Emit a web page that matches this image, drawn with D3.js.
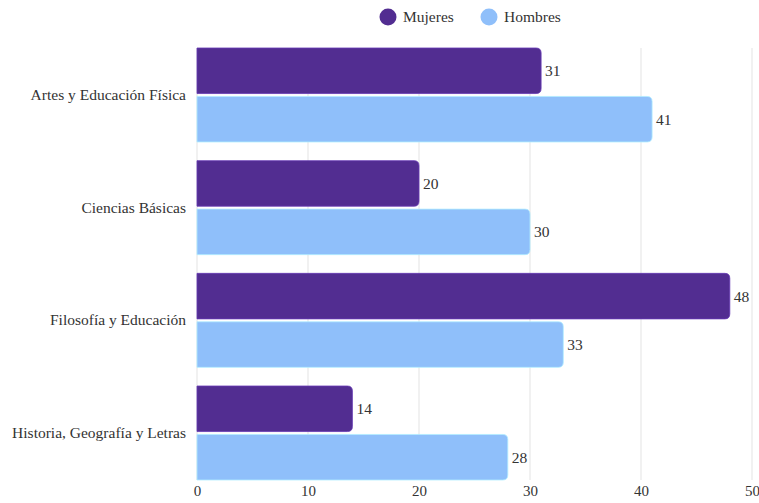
<!DOCTYPE html>
<html>
<head>
<meta charset="utf-8">
<script src="https://cdn.jsdelivr.net/npm/d3@7"></script>
<style>
  body { margin: 0; background: #fff; }
  svg text { fill: #333; }
</style>
</head>
<body>
<div class="chart"></div>
<script>
// data
var categories = ["Artes y Educación Física", "Ciencias Básicas", "Filosofía y Educación", "Historia, Geografía y Letras"];
var series = ["Mujeres", "Hombres"];
var mujeres = [31, 20, 48, 14];
var hombres = [41, 30, 33, 28];
var xTicks = [0, 10, 20, 30, 40, 50];
var colors = ["#522d91", "#8fbffa"];

var FONT = "'Times New Roman', Times, Tinos, 'Liberation Serif', 'Noto Serif', 'DejaVu Serif', serif";
var width = 759, height = 503;
var margin = {top: 48, right: 7, bottom: 23, left: 197};

var svg = d3.select(".chart").append("svg")
    .attr("width", width)
    .attr("height", height);

var x = d3.scaleLinear().domain([0, 50]).range([margin.left, margin.left + 555]);
var y0 = d3.scaleBand().domain(categories).range([margin.top, height - margin.bottom]).paddingInner(0.166).paddingOuter(0);
var y1 = d3.scaleBand().domain(series).range([0, y0.bandwidth()]).paddingInner(0.06);

// gridlines
svg.append("g")
    .selectAll("line")
    .data(xTicks)
    .enter().append("line")
    .attr("x1", function (d) { return x(d); })
    .attr("x2", function (d) { return x(d); })
    .attr("y1", margin.top)
    .attr("y2", height - margin.bottom)
    .attr("stroke", "#e3e3e3")
    .attr("stroke-width", 1);

// x axis labels
var xAxis = svg.append("g")
    .attr("transform", "translate(0," + (height - margin.bottom) + ")")
    .call(d3.axisBottom(x).tickValues(xTicks).tickSize(0).tickPadding(5));
xAxis.attr("font-family", FONT).attr("font-size", 15);
xAxis.select(".domain").remove();
xAxis.selectAll("text").attr("fill", "#333");

// category labels
var yAxis = svg.append("g")
    .attr("transform", "translate(" + (margin.left - 11) + ",0)")
    .call(d3.axisLeft(y0).tickSize(0).tickPadding(0));
yAxis.attr("font-family", FONT).attr("font-size", 15.5);
yAxis.select(".domain").remove();
yAxis.selectAll("text").attr("fill", "#333");

var rows = categories.map(function (c, i) {
    return {cat: c, vals: [{s: "Mujeres", v: mujeres[i], c: colors[0]}, {s: "Hombres", v: hombres[i], c: colors[1]}]};
});

// bar path with rounded right end
function barPath(x0, x1, yTop, h, r) {
    r = Math.min(r, (x1 - x0) / 2, h / 2);
    return "M" + x0 + "," + yTop +
        "H" + (x1 - r) +
        "Q" + x1 + "," + yTop + " " + x1 + "," + (yTop + r) +
        "V" + (yTop + h - r) +
        "Q" + x1 + "," + (yTop + h) + " " + (x1 - r) + "," + (yTop + h) +
        "H" + x0 + "Z";
}

var group = svg.append("g").selectAll("g")
    .data(rows)
    .enter().append("g")
    .attr("transform", function (d) { return "translate(0," + y0(d.cat) + ")"; });

group.selectAll("path")
    .data(function (d) { return d.vals; })
    .enter().append("path")
    .attr("d", function (d) { return barPath(x(0), x(d.v), y1(d.s), y1.bandwidth(), 5); })
    .attr("fill", function (d) { return d.c; })
    .attr("stroke", function (d) { return d3.color(d.c).brighter(0.6); })
    .attr("stroke-width", 0.8);

group.selectAll("text.val")
    .data(function (d) { return d.vals; })
    .enter().append("text")
    .attr("class", "val")
    .attr("x", function (d) { return x(d.v) + 4; })
    .attr("y", function (d) { return y1(d.s) + y1.bandwidth() / 2; })
    .attr("dy", "0.35em")
    .attr("font-family", FONT)
    .attr("font-size", 15.5)
    .text(function (d) { return d.v; });

// legend
var legend = svg.append("g").selectAll("g")
    .data(series)
    .enter().append("g")
    .attr("transform", function (d, i) { return "translate(" + (388 + i * 101) + ",17)"; });

legend.append("circle")
    .attr("r", 8.5)
    .attr("fill", function (d, i) { return colors[i]; });

legend.append("text")
    .attr("x", 15)
    .attr("dy", "0.35em")
    .attr("font-family", FONT)
    .attr("font-size", 15.5)
    .text(function (d) { return d; });
</script>
</body>
</html>
